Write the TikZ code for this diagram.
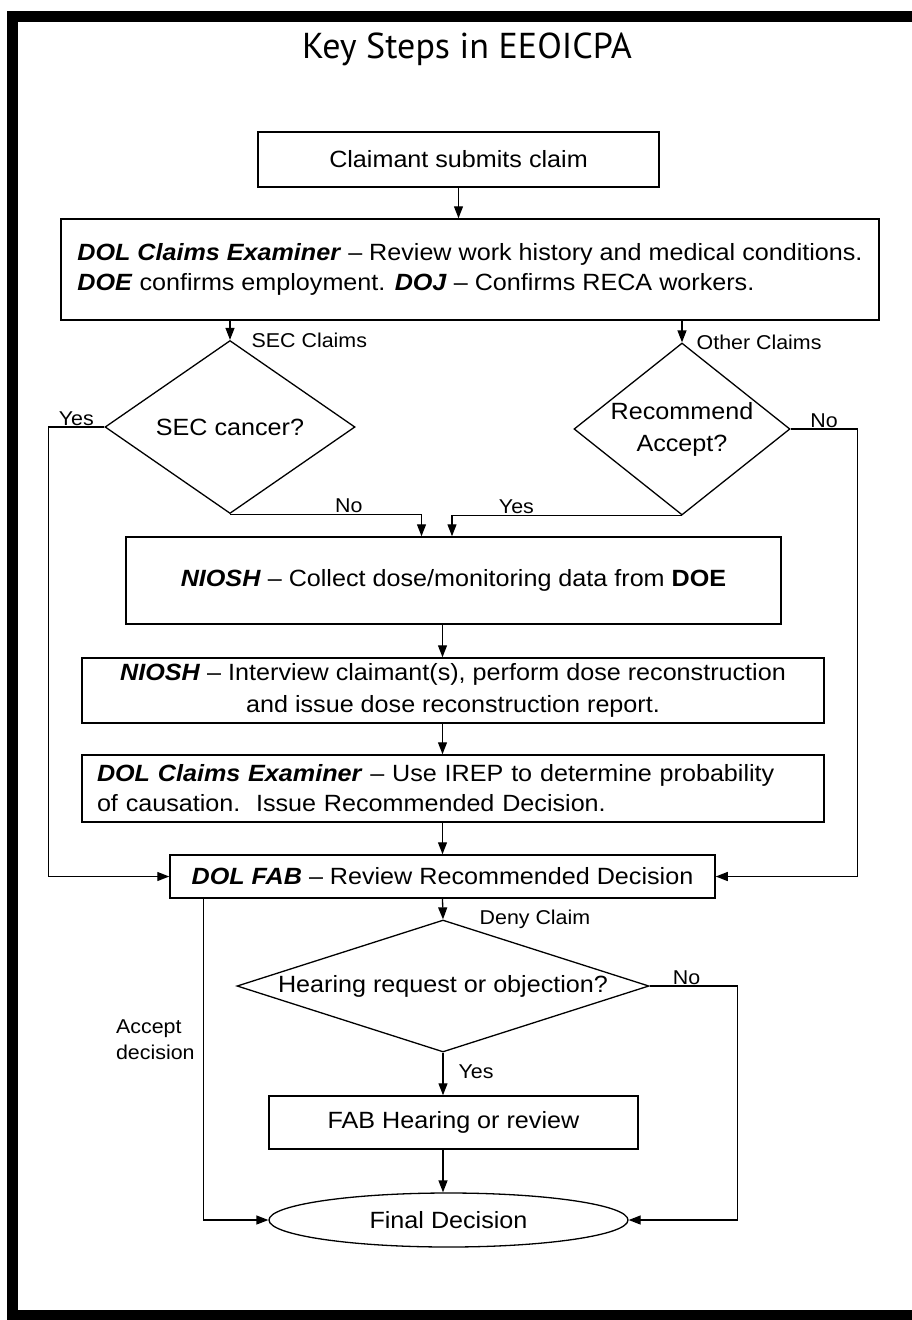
\documentclass[tikz,border=0pt]{standalone}
\usepackage{fontspec}
\setmainfont{Liberation Sans}[FakeStretch=1.07]
\newfontfamily\titlefont{PT Sans}
\usetikzlibrary{shapes.geometric,arrows.meta,positioning}

\tikzset{
  frame/.style={draw, line width=11pt},
  titletext/.style={inner sep=0pt, font=\titlefont\fontsize{36}{40}\selectfont},
  box/.style={draw, rectangle, line width=1.5pt, inner sep=0pt, align=center,
    font=\fontsize{23.5}{30}\selectfont},
  decision/.style={draw, diamond, line width=1.3pt, inner sep=0pt, align=center,
    font=\fontsize{23.5}{32}\selectfont},
  endbox/.style={draw, ellipse, line width=1.3pt, inner sep=0pt,
    font=\fontsize{23.5}{30}\selectfont},
  lbl/.style={inner sep=1pt, font=\fontsize{20}{26}\selectfont},
  flow/.style={line width=1.3pt, -{Triangle[length=12pt,width=9pt]}},
}

\begin{document}
\begin{tikzpicture}[x=1pt, y=-1pt]
  \useasboundingbox (0,0) rectangle (912,1320);
  % border and heading
  \draw [frame] (912,16) -- (12,16) -- (12,1315) -- (912,1315);
  \node [titletext] (title) at (467,49) {Key Steps in EEOICPA};

  % steps
  \node [box, minimum width=401, minimum height=55] (claim) at (458.5,159.5) {Claimant submits claim};
  \node [box, align=left, minimum width=818, minimum height=101] (review) at (470,269.5)
    {\textbf{\textit{DOL Claims Examiner}} -- Review work history and medical conditions.\\
     \textbf{\textit{DOE}} confirms employment. \textbf{\textit{DOJ}} -- Confirms RECA workers.};
  \node [decision, aspect=1.45, minimum width=250, minimum height=173] (seccan) at (230,427) {SEC cancer?};
  \node [decision, aspect=1.26, minimum width=216, minimum height=172] (recacc) at (682,429) {Recommend\\Accept?};
  \node [box, minimum width=655, minimum height=87] (niosha) at (453.5,580.5)
    {\textbf{\textit{NIOSH}} -- Collect dose/monitoring data from \textbf{DOE}};
  \node [box, minimum width=742, minimum height=65, font=\fontsize{23.5}{32}\selectfont] (nioshb) at (453,690.5)
    {\textbf{\textit{NIOSH}} -- Interview claimant(s), perform dose reconstruction\\
     and issue dose reconstruction report.};
  \node [box, align=left, text width=712, inner xsep=15pt, minimum height=67] (exam) at (453,788.5)
    {\textbf{\textit{DOL Claims Examiner}} -- Use IREP to determine probability\\
     of causation.\ \ Issue Recommended Decision.};
  \node [box, minimum width=545, minimum height=43] (fab) at (442.5,876.5)
    {\textbf{\textit{DOL FAB}} -- Review Recommended Decision};
  \node [decision, aspect=3.12, minimum width=412, minimum height=132] (hear) at (443,986) {Hearing request or objection?};
  \node [box, minimum width=369, minimum height=53] (fabhear) at (453.5,1122.5) {FAB Hearing or review};
  \node [endbox, minimum width=359, minimum height=54] (final) at (448.5,1220) {Final Decision};

  % Relations
  \draw [flow] (claim.south) -- (claim.south |- review.north);
  \draw [flow] (seccan.north |- review.south) -- node [lbl, right=20pt, pos=1] {SEC Claims} (seccan.north);
  \draw [flow] (recacc.north |- review.south) -- node [lbl, right=13pt, pos=1] {Other Claims} (recacc.north);
  \draw [flow] (seccan.west) -- node [lbl, above] {Yes} ++(-56,0) |- (fab.west);
  \draw [flow] (recacc.east) -- node [lbl, above] {No} ++(67,0) |- (fab.east);
  \draw [flow] (seccan.south) -| node [lbl, above, pos=0.31] {No} ([xshift=-32pt]niosha.north);
  \draw [flow] (recacc.south) -| node [lbl, above, pos=0.36] {Yes} ([xshift=-1.5pt]niosha.north);
  \draw [flow] (fab |- niosha.south) -- (fab |- nioshb.north);
  \draw [flow] (fab |- nioshb.south) -- (fab |- exam.north);
  \draw [flow] (fab |- exam.south) -- (fab.north);
  \draw [flow] (fab.south) -- node [lbl, right=35pt, pos=1] {Deny Claim} (hear.north);
  \draw [flow] (hear.south) -- node [lbl, right=14pt, pos=0.45] {Yes} (hear.south |- fabhear.north);
  \draw [flow] (hear.south |- fabhear.south) -- (hear.south |- final.north);
  \draw [flow] (hear.east) -- node [lbl, above, pos=0.42] {No} ++(88,0) |- (final.east);
  \draw [flow] ([xshift=34pt]fab.south west) |- node [lbl, left=7pt, pos=0.22, align=left] {Accept\\decision} (final.west);
\end{tikzpicture}
\end{document}
